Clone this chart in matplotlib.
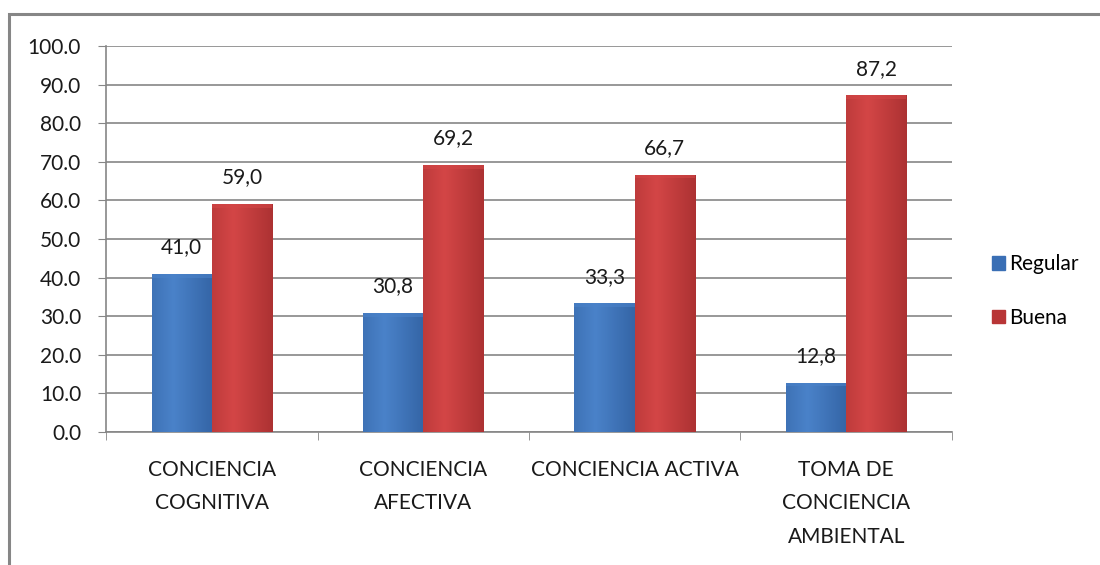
import matplotlib
matplotlib.use('Agg')
import matplotlib.pyplot as plt
import numpy as np
from matplotlib.patches import Rectangle

categories = ['CONCIENCIA\nCOGNITIVA', 'CONCIENCIA\nAFECTIVA', 'CONCIENCIA ACTIVA',
              'TOMA DE\nCONCIENCIA\nAMBIENTAL']
regular = [41.0, 30.8, 33.3, 12.8]
buena = [59.0, 69.2, 66.7, 87.2]

plt.rcParams['font.family'] = ['Lato', 'DejaVu Sans']

fig = plt.figure(figsize=(11, 5.65), dpi=100)
ax = fig.add_axes([0.0964, 0.2354, 0.769, 0.6832])

# outer chart border
fig.patches.append(Rectangle((9 / 1100, -0.1), 1.2, 1 - 14 / 565 + 0.1, transform=fig.transFigure,
                             fill=False, edgecolor='#868686', linewidth=2.2, zorder=0))

x = np.arange(len(categories))
w = 0.285

def gradient_bars(xs, vals, base, dark, light):
    bars = ax.bar(xs, vals, w, color=base, edgecolor='none', zorder=2)
    for b in bars:
        x0, y0 = b.get_x(), b.get_y()
        bw, bh = b.get_width(), b.get_height()
        grad = np.linspace(0, 1, 50)
        grad = 1 - np.abs(grad - 0.35) * 1.1
        cmap = matplotlib.colors.LinearSegmentedColormap.from_list('c', [dark, light])
        im = ax.imshow(grad[None, :], extent=[x0, x0 + bw, y0, y0 + bh], aspect='auto',
                       cmap=cmap, vmin=0, vmax=1, zorder=3)
        im.set_clip_path(b)
        # top bevel
        ax.add_patch(Rectangle((x0, y0 + bh - 1.0), bw, 1.0, color=light, alpha=0.6, zorder=4, lw=0))
    return bars

gradient_bars(x - w / 2, regular, '#3a6fb5', '#2c5a99', '#4a82c9')
gradient_bars(x + w / 2, buena, '#c0393a', '#9e2a2b', '#d34646')

for xs, vals in [(x - w / 2, regular), (x + w / 2, buena)]:
    for xi, v in zip(xs, vals):
        ax.annotate(('%.1f' % v).replace('.', ','), (xi, v), xytext=(0, 12),
                    textcoords='offset points', ha='center', va='bottom', fontsize=15, color='#1a1a1a')

ax.set_xlim(-0.5, 3.5)
ax.set_ylim(0, 100)
ax.set_yticks(np.arange(0, 101, 10))
ax.set_yticklabels(['%.1f' % t for t in np.arange(0, 101, 10)], fontsize=15, color='#1a1a1a')
ax.set_xticks(x)
ax.set_xticklabels(categories, fontsize=15, linespacing=1.85, color='#1a1a1a')
ax.set_xticks(np.arange(-0.5, 4, 1), minor=True)
ax.tick_params(axis='x', which='major', length=0, pad=20)
ax.tick_params(axis='x', which='minor', length=6, color='#868686')
ax.tick_params(axis='y', length=6, color='#868686', pad=12)
ax.yaxis.grid(True, color='#868686', linewidth=1.2, zorder=0)
ax.set_axisbelow(True)
for s in ['top', 'right']:
    ax.spines[s].set_visible(False)
for s in ['left', 'bottom']:
    ax.spines[s].set_color('#868686')
    ax.spines[s].set_linewidth(1.2)

handles = [Rectangle((0, 0), 1, 1, color='#3a6fb5'), Rectangle((0, 0), 1, 1, color='#b83536')]
fig.legend(handles, ['Regular', 'Buena'], loc='center left', bbox_to_anchor=(0.885, 0.485),
           frameon=False, fontsize=15, handlelength=0.6, handleheight=0.6, handletextpad=0.2,
           labelspacing=1.6)

fig.savefig('out.png', dpi=100)
